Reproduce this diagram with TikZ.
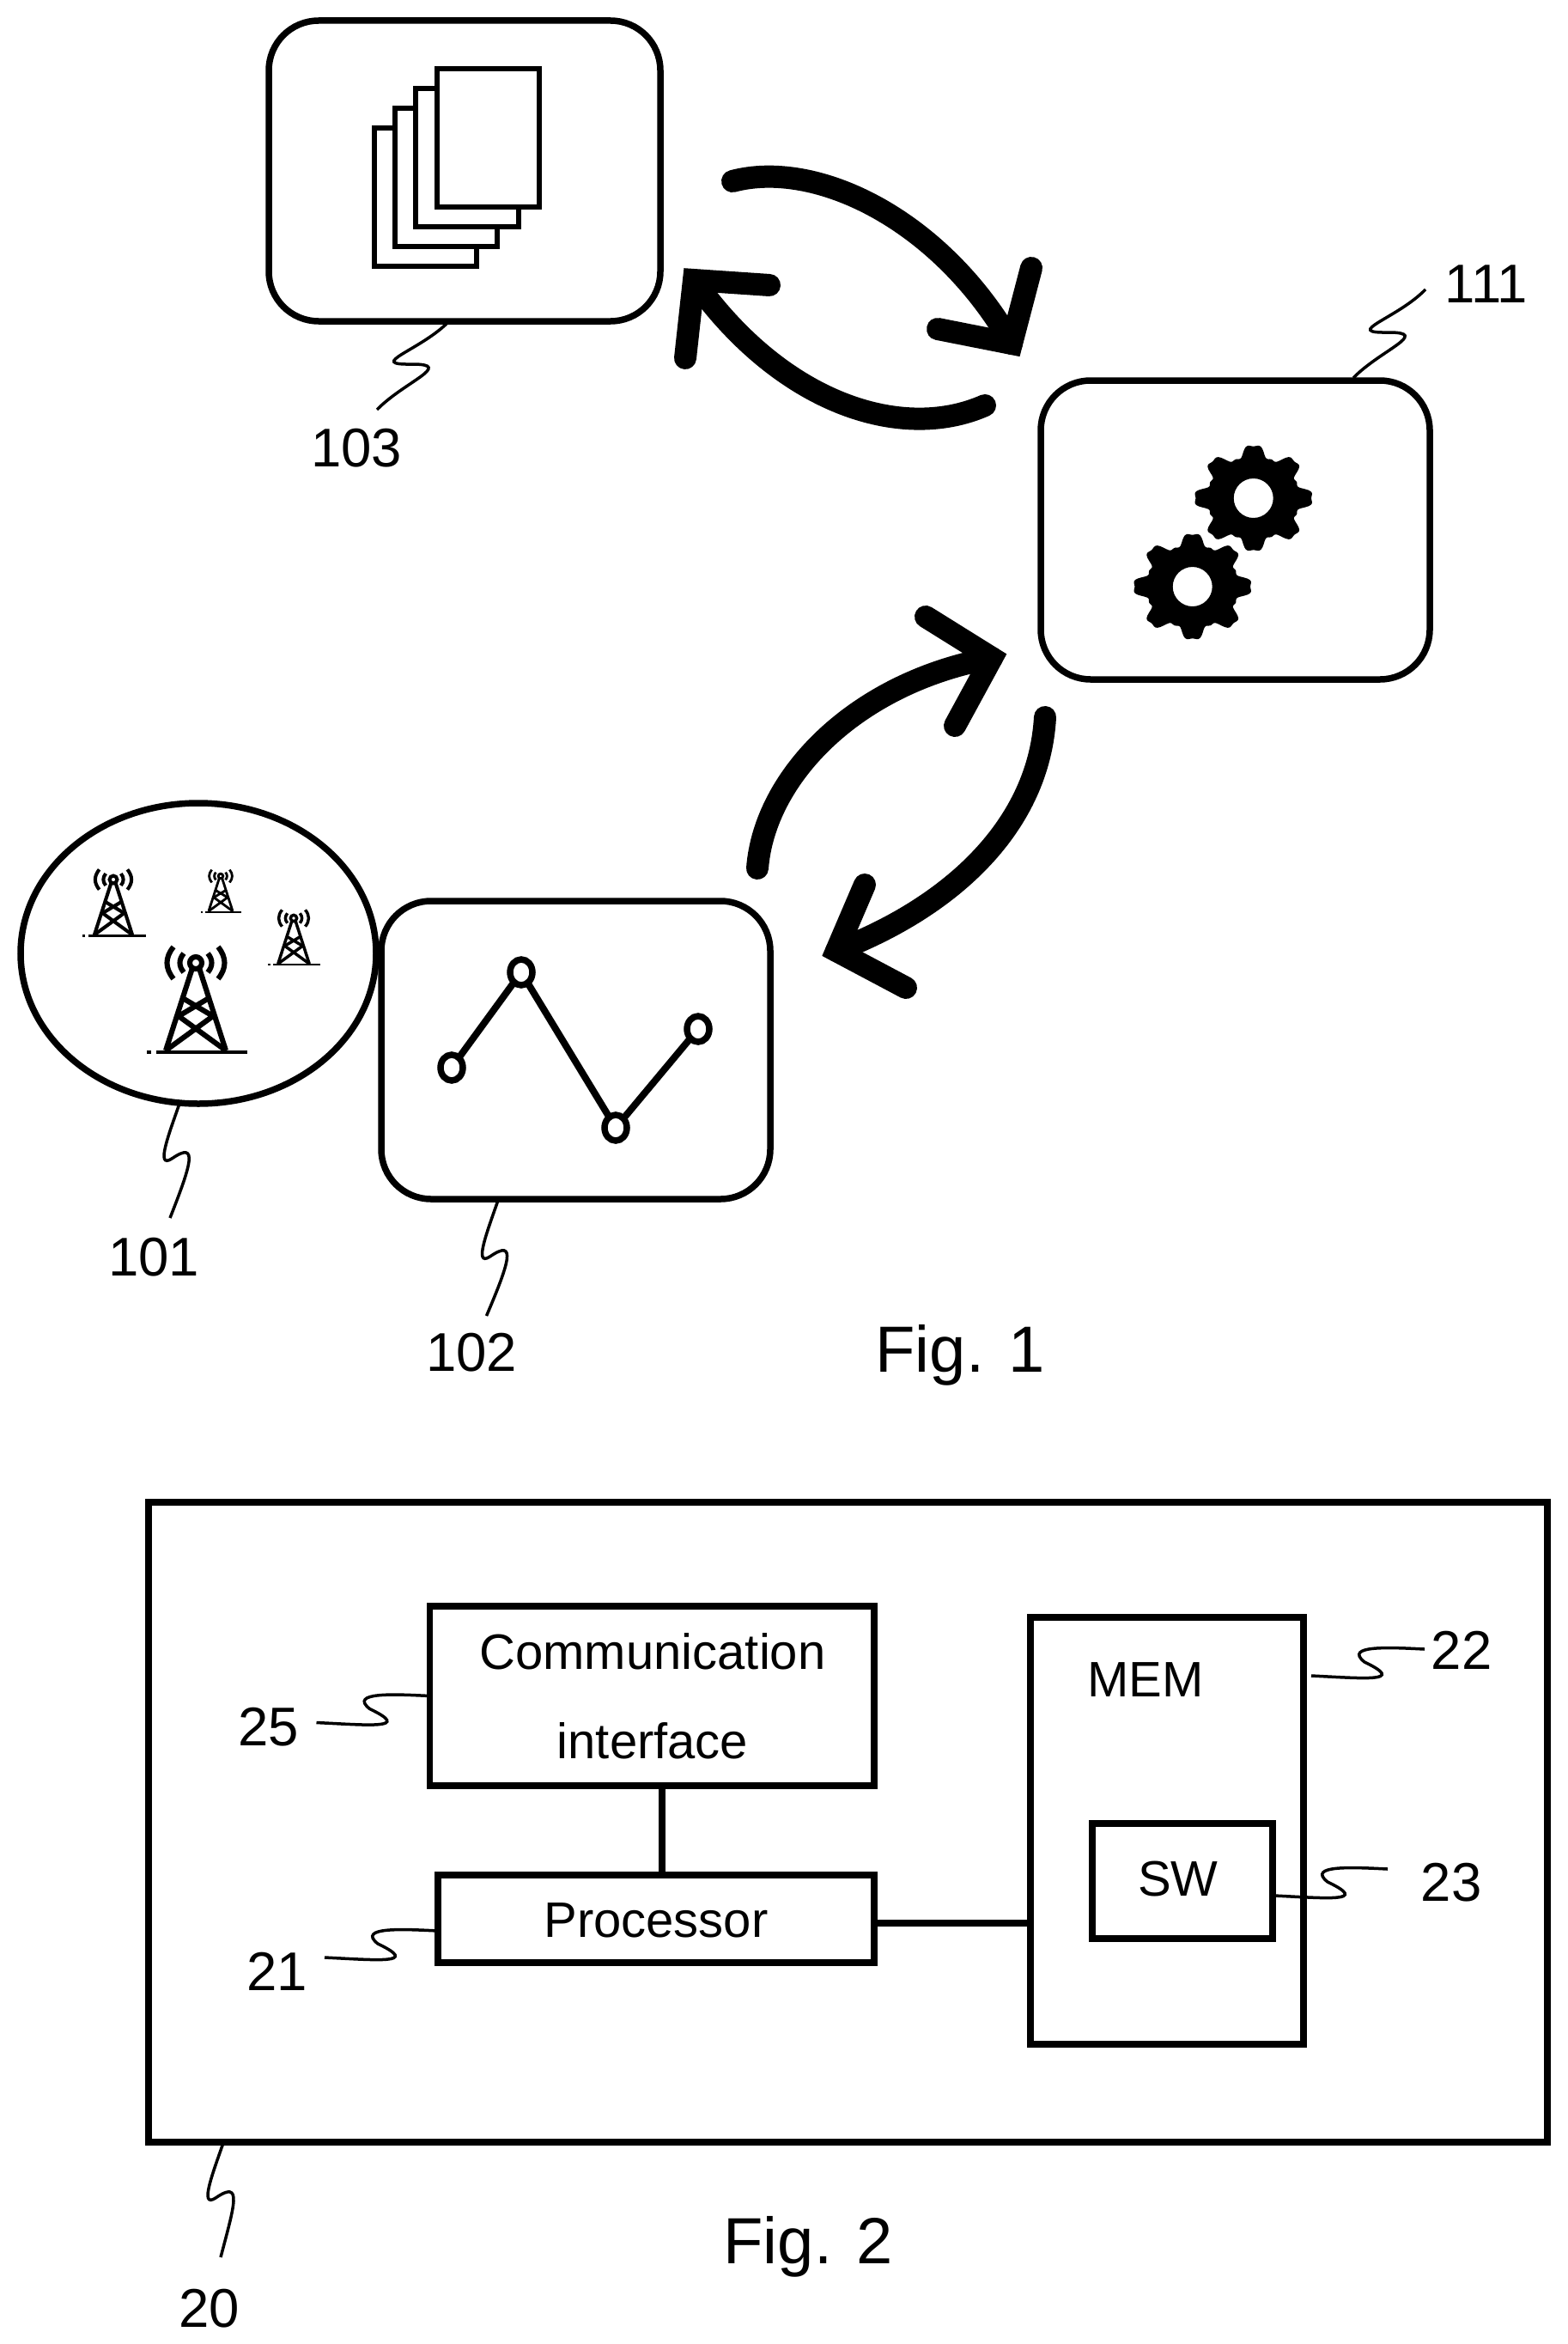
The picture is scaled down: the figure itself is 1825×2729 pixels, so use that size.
\documentclass[tikz,border=0pt]{standalone}
\usepackage{fontspec}
\setmainfont{Liberation Sans}
\usetikzlibrary{shapes.geometric,calc}
\tikzset{
  lab/.style={font=\fontsize{63.5}{77}\selectfont,inner sep=0pt,anchor=base},
  boxtxt/.style={font=\fontsize{58}{68}\selectfont,inner sep=0pt,anchor=base},
  figlab/.style={font=\fontsize{76}{92}\selectfont,inner sep=0pt,anchor=base},
  rbox/.style={draw,line width=7.5pt,rounded corners=58pt,outer sep=0pt,inner sep=0pt},
  sbox/.style={draw,line width=7.5pt,outer sep=0pt,inner sep=0pt},
  oval/.style={draw,ellipse,line width=7.5pt,outer sep=0pt,inner sep=0pt},
  dot/.style={draw,ellipse,line width=7.5pt,minimum width=26pt,minimum height=30pt,inner sep=0pt,outer sep=0pt},
  trace/.style={line width=8pt},
  wire/.style={line width=7.5pt},
  leader/.style={line width=3.5pt},
  bigshaft/.style={line width=26pt,line cap=round},
  bighead/.style={line width=26pt,line cap=round,line join=miter,miter limit=4},
  page/.style={draw,line width=6.5pt,fill=white},
}
\newcommand{\leadH}[1]{\draw[leader,shift={(#1)}] (0,0) .. controls (-40,-2) and (-95,-5) .. (-70,15) .. controls (-20,39) and (-70,34) .. (-132,31);}
\newcommand{\leadV}[2]{\draw[leader,shift={(#1)}] (0,0) .. controls (-12,35) and (-30,80) .. (-10,67) .. controls (22,45) and (12,75) .. (#2,136);}
\newcommand{\leadD}[1]{\draw[leader,shift={(#1)}] (0,0) .. controls (-33,34) and (-98,51) .. (-43,50) .. controls (7,50) and (-53,71) .. (-84,103);}
\newcommand{\gearshape}[2]{\fill[even odd rule] plot[domain=0:360,samples=193] ({#1+1.06*(57.5+8*(cos(8*\x)-cos(24*\x)/4))*cos(\x)},{#2+0.95*(57.5+8*(cos(8*\x)-cos(24*\x)/4))*sin(\x)}) -- cycle (#1,#2) circle (23);}
\newcommand{\towerdraw}[3]{%
  \pgfmathsetmacro{\tlw}{5.5*#3+0.6}%
  \pgfmathsetmacro{\tgr}{4*#3+0.6}%
  \begin{scope}[shift={(#1,#2)},scale=#3,line width=\tlw pt]
    \draw (0,0) circle (7);
    \draw (-4,6) -- (-35,102);
    \draw (4,6) -- (35,102);
    \draw (-17,40) -- (20,62) (17,40) -- (-20,62);
    \draw (-20,62) -- (35,102) (20,62) -- (-35,102);
    \draw (-26,-18.6) .. controls (-36,-6) and (-36,6) .. (-26,18.6);
    \draw (26,-18.6) .. controls (36,-6) and (36,6) .. (26,18.6);
    \draw (-14,-11) .. controls (-20,-4) and (-20,4) .. (-14,11);
    \draw (14,-11) .. controls (20,-4) and (20,4) .. (14,11);
    \draw[line width=\tgr pt] (-46,104) -- (60,104);
    \draw[line width=\tgr pt] (-57,104) -- (-52,104);
  \end{scope}}
\begin{document}
\begin{tikzpicture}[x=1pt,y=-1pt]
\useasboundingbox (0,0) rectangle (1825,2729);
\fill[white] (0,0) rectangle (1825,2729);

% --- Fig. 1 nodes
\node[rbox,minimum width=456pt,minimum height=350pt] (docs) at (541,199) {};
\node[rbox,minimum width=453pt,minimum height=348pt] (proc111) at (1438.5,617) {};
\node[rbox,minimum width=453pt,minimum height=347pt] (data) at (670.5,1222.5) {};
\node[oval,minimum width=414pt,minimum height=350pt] (net) at (231,1110) {};

% documents
\draw[page] (436,149) rectangle (555,310);
\draw[page] (460,126) rectangle (579,287);
\draw[page] (484,103) rectangle (604,264);
\draw[page] (509,80) rectangle (628,241);

% gears
\gearshape{1459.7}{580}
\gearshape{1388.7}{683}

% towers
\towerdraw{228}{1121}{1}
\towerdraw{132}{1024}{0.63}
\towerdraw{257}{1020}{0.40}
\towerdraw{342}{1069}{0.52}

% chart
\node[dot] (p1) at (526,1243) {};
\node[dot] (p2) at (607,1132) {};
\node[dot] (p3) at (717,1313) {};
\node[dot] (p4) at (813,1198) {};
\draw[trace] (p1) -- (p2);
\draw[trace] (p2) -- (p3);
\draw[trace] (p3) -- (p4);

% big arrows
\coordinate (aS) at (853,211);
\coordinate (aC) at (1178,400);
\coordinate (aB1) at (1201,312);
\coordinate (aB2) at (1092,383);
\draw[bigshaft] (aS) .. controls (950,185) and (1095,255) .. (aC);
\draw[bighead] (aB1) -- (aC) -- (aB2);

\coordinate (bS) at (1147,472);
\coordinate (bC) at (808,326);
\coordinate (bB1) at (896,332);
\coordinate (bB2) at (798,417);
\draw[bigshaft] (bS) .. controls (1050,515) and (910,470) .. (bC);
\draw[bighead] (bB1) -- (bC) -- (bB2);

\coordinate (cS) at (882,1011);
\coordinate (cC) at (1155,766);
\coordinate (cB1) at (1078,718);
\coordinate (cB2) at (1112,845);
\draw[bigshaft] (cS) .. controls (890,905) and (995,795) .. (cC);
\draw[bighead] (cB1) -- (cC) -- (cB2);

\coordinate (dS) at (1217,835);
\coordinate (dC) at (974,1107);
\coordinate (dB1) at (1007,1030);
\coordinate (dB2) at (1055,1150);
\draw[bigshaft] (dS) .. controls (1210,960) and (1110,1055) .. (dC);
\draw[bighead] (dB1) -- (dC) -- (dB2);

% Fig. 1 labels
\node[lab] (t103) at (415,543) {103};
\node[lab] (t111) at (1731,352) {111};
\node[lab] (t101) at (179,1485) {101};
\node[lab] (t102) at (549,1596) {102};
\node[figlab] (fig1) at (1118,1597) {Fig. 1};

\leadD{$(docs.south)+(-18,0)$}
\coordinate (l111) at (1660,337);
\leadD{l111}
\leadV{$(net.south)+(-21,-3)$}{-12}
\leadV{$(data.south)+(-90,0)$}{-14}

% --- Fig. 2
\node[sbox,minimum width=1629pt,minimum height=745pt] (dev) at (987.5,2121.5) {};
\node[sbox,minimum width=517.5pt,minimum height=209pt] (comm) at (759.25,1974.5) {};
\node[sbox,minimum width=508pt,minimum height=102pt] (cpu) at (764,2234) {};
\node[sbox,minimum width=318pt,minimum height=497pt] (mem) at (1359,2131.5) {};
\node[sbox,minimum width=210pt,minimum height=134pt] (sw) at (1377,2190) {};

\node[boxtxt] (tcomm) at (760,1943) {Communication};
\node[boxtxt] (tiface) at (760,2047) {interface};
\node[boxtxt] (tcpu) at (764,2255) {Processor};
\node[boxtxt] (tmem) at (1334,1975) {MEM};
\node[boxtxt] (tsw) at (1372,2207) {SW};

\draw[wire] (comm.south -| cpu.north) ++(7,0) -- ($(cpu.north)+(7,0)$);
\draw[wire] ($(cpu.east)+(0,5)$) -- ($(cpu.east)+(182,5)$);

\node[lab] (t25) at (313,2032) {25};
\node[lab] (t21) at (323,2317) {21};
\node[lab] (t22) at (1702,1943) {22};
\node[lab] (t23) at (1690,2213) {23};
\node[lab] (t20) at (244,2709) {20};
\node[figlab] (fig2) at (941,2635) {Fig. 2};

\leadH{comm.west}
\leadH{$(cpu.west)+(0,14)$}
\coordinate (l22) at (1659,1920);
\leadH{l22}
\coordinate (l23) at (1616,2176);
\leadH{l23}
\leadV{$(dev.south)+(-726.5,-2)$}{-4}
\end{tikzpicture}
\end{document}
